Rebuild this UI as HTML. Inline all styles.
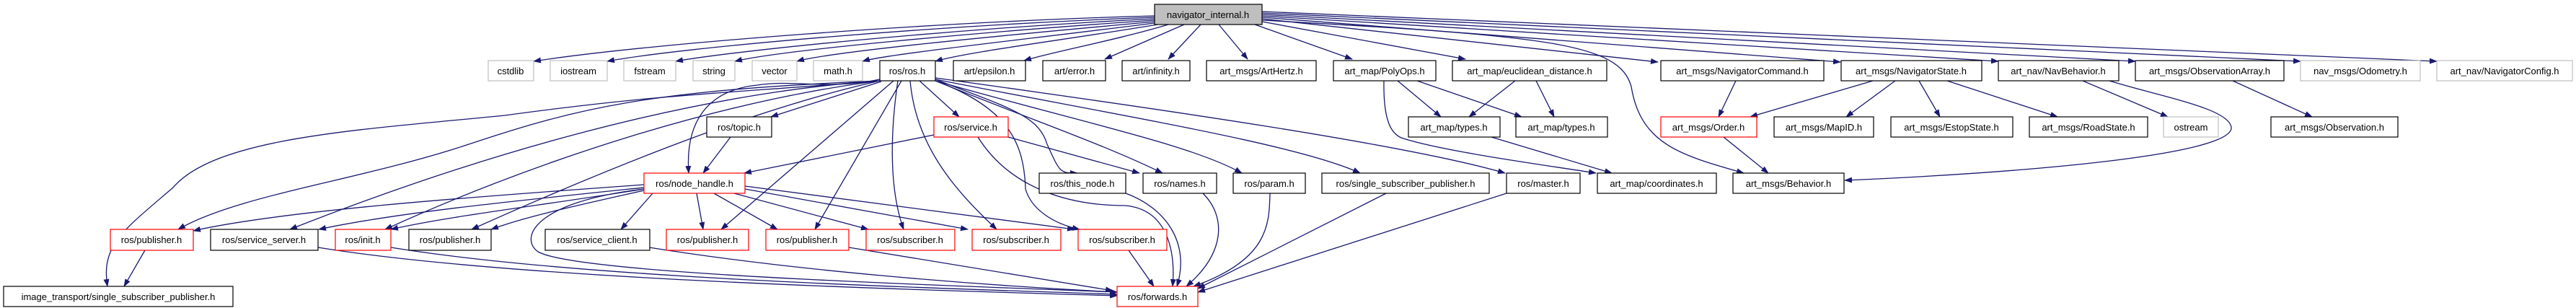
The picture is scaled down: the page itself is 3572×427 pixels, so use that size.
<!DOCTYPE html>
<html><head><meta charset="utf-8"><style>
html,body{margin:0;padding:0;background:#fff;}
svg{display:block;}
text{font-family:"Liberation Sans",sans-serif;font-size:13px;fill:#000;}
</style></head><body>
<svg width="3572" height="427" viewBox="0 0 3572 427" xmlns="http://www.w3.org/2000/svg">
<defs>
<marker id="a" markerWidth="11" markerHeight="8" refX="10" refY="4" orient="auto" markerUnits="userSpaceOnUse">
<path d="M0,0 L11,4 L0,8 z" fill="#191970"/></marker>
</defs>
<g fill="none" stroke="#191970" stroke-width="1.3" marker-end="url(#a)">
<!-- navigator_internal -->
<path d="M1601,22 C1300,30 900,60 740,85"/>
<path d="M1601,24 C1300,35 950,65 842,85"/>
<path d="M1601,26 C1320,40 1020,70 937,85"/>
<path d="M1601,28 C1350,45 1080,70 1019,85"/>
<path d="M1601,30 C1380,50 1150,72 1105,85"/>
<path d="M1601,32 C1420,55 1230,75 1196,85"/>
<path d="M1605,34 C1480,55 1340,72 1297,85"/>
<path d="M1620,34 C1550,55 1460,72 1420,84"/>
<path d="M1642,34 L1532,82"/>
<path d="M1665,34 L1620,82"/>
<path d="M1690,34 L1730,82"/>
<path d="M1740,34 L1875,82"/>
<path d="M1750,30 L2032,82"/>
<path d="M1750,26 L2299,86"/>
<path d="M1750,24 L2552,86"/>
<path d="M1750,22 L2771,85"/>
<path d="M1750,20 L2961,85"/>
<path d="M1750,18 L3190,85"/>
<path d="M1750,16 L3379,85"/>
<path d="M1750,28 C2150,50 2245,60 2262,120 C2275,200 2330,215 2418,240"/>
<path d="M2925,112 C3000,135 3089,150 3094,176 C3100,215 2800,240 2558,250"/>
<!-- ros.h -->
<path d="M1220,110 C1150,125 1100,110 1050,118 C980,125 950,170 955,240"/>
<path d="M1222,113 L1069,162"/>
<path d="M1275,112 L1330,162"/>
<path d="M1239,112 L1000,318"/>
<path d="M1250,112 L1130,318"/>
<path d="M1245,112 C1235,180 1232,260 1253,318"/>
<path d="M1262,112 C1270,200 1320,260 1382,318"/>
<path d="M1297,112 C1400,150 1420,200 1422,262 C1430,290 1460,310 1497,318"/>
<path d="M1297,110 C1400,150 1440,160 1452,200 C1470,240 1470,240 1494,240"/>
<path d="M1297,112 C1440,170 1530,200 1612,240"/>
<path d="M1297,112 C1500,170 1650,200 1722,240"/>
<path d="M1297,110 C1550,160 1800,200 1886,240"/>
<path d="M1297,108 C1600,150 1950,200 2087,240"/>
<path d="M1220,112 C900,125 800,150 650,200 C500,250 330,270 247,318"/>
<path d="M1220,112 C950,130 650,220 402,318"/>
<path d="M1220,112 C1000,140 750,220 534,318"/>
<path d="M1220,112 C1050,150 850,230 654,318"/>
<path d="M1220,112 C1000,130 920,130 700,160 C500,180 300,190 240,260 C170,320 140,340 149,397"/>
<!-- node_handle -->
<path d="M893,256 C700,270 400,290 268,320"/>
<path d="M893,260 C700,280 550,295 442,318"/>
<path d="M893,262 C750,285 620,300 542,318"/>
<path d="M893,264 C800,285 730,300 681,318"/>
<path d="M905,268 L861,318"/>
<path d="M966,268 L975,318"/>
<path d="M990,268 L1078,318"/>
<path d="M1018,268 L1204,318"/>
<path d="M1033,262 L1342,318"/>
<path d="M1033,258 L1490,318"/>
<path d="M893,262 C740,280 720,330 746,349 C800,380 1300,395 1549,405"/>
<path d="M1013,190 L975,240"/>
<path d="M1295,187 L1032,240"/>
<path d="M1398,190 L1580,240"/>
<path d="M1356,190 C1400,260 1480,285 1560,285 C1620,290 1630,350 1626,397"/>
<!-- row4 to forwards -->
<path d="M201,347 L172,397"/>
<path d="M441,343 C700,385 1200,400 1549,410"/>
<path d="M542,343 C800,385 1250,398 1549,408"/>
<path d="M900,343 C1100,375 1350,395 1549,405"/>
<path d="M1177,343 L1543,403"/>
<path d="M1565,347 L1600,397"/>
<path d="M1561,268 C1620,290 1650,340 1632,397"/>
<path d="M1668,268 C1700,300 1700,350 1645,397"/>
<path d="M1761,268 C1760,310 1760,360 1655,397"/>
<path d="M1922,268 L1661,400"/>
<path d="M2089,268 L1661,405"/>
<!-- art -->
<path d="M1938,112 L1998,162"/>
<path d="M1965,112 L2110,162"/>
<path d="M1919,112 C1918,170 1930,185 1943,191 C2000,210 2150,230 2213,240"/>
<path d="M2101,112 L2037,162"/>
<path d="M2130,112 L2155,162"/>
<path d="M2068,190 L2235,240"/>
<path d="M2407,112 L2383,162"/>
<path d="M2597,112 L2427,162"/>
<path d="M2628,112 L2560,162"/>
<path d="M2661,112 L2690,162"/>
<path d="M2700,112 L2853,162"/>
<path d="M2888,112 L3006,162"/>
<path d="M2390,190 L2452,240"/>
<path d="M3096,112 L3206,162"/>
</g>
<g stroke-width="1.2" fill="#fff">
<!-- row0 -->
<rect x="1601" y="6" width="149" height="28" fill="#bfbfbf" stroke="#000"/>
<!-- row1 gray -->
<rect x="677" y="84" width="63" height="28" stroke="#bfbfbf"/>
<rect x="763" y="84" width="79" height="28" stroke="#bfbfbf"/>
<rect x="865" y="84" width="72" height="28" stroke="#bfbfbf"/>
<rect x="961" y="84" width="58" height="28" stroke="#bfbfbf"/>
<rect x="1043" y="84" width="62" height="28" stroke="#bfbfbf"/>
<rect x="1128" y="84" width="68" height="28" stroke="#bfbfbf"/>
<rect x="3190" y="84" width="166" height="28" stroke="#bfbfbf"/>
<rect x="3379" y="84" width="188" height="28" stroke="#bfbfbf"/>
<rect x="3000" y="162" width="76" height="28" stroke="#bfbfbf"/>
<!-- black -->
<g stroke="#000">
<rect x="1220" y="84" width="77" height="28"/>
<rect x="1322" y="84" width="100" height="28"/>
<rect x="1446" y="84" width="87" height="28"/>
<rect x="1556" y="84" width="94" height="28"/>
<rect x="1673" y="84" width="152" height="28"/>
<rect x="1849" y="84" width="142" height="28"/>
<rect x="2014" y="84" width="214" height="28"/>
<rect x="2303" y="84" width="226" height="28"/>
<rect x="2553" y="84" width="195" height="28"/>
<rect x="2771" y="84" width="167" height="28"/>
<rect x="2961" y="84" width="206" height="28"/>
<rect x="980" y="162" width="90" height="28"/>
<rect x="1953" y="162" width="127" height="28"/>
<rect x="2102" y="162" width="127" height="28"/>
<rect x="2460" y="162" width="138" height="28"/>
<rect x="2622" y="162" width="169" height="28"/>
<rect x="2814" y="162" width="164" height="28"/>
<rect x="3149" y="162" width="176" height="28"/>
<rect x="1441" y="240" width="120" height="28"/>
<rect x="1585" y="240" width="102" height="28"/>
<rect x="1710" y="240" width="100" height="28"/>
<rect x="1833" y="240" width="232" height="28"/>
<rect x="2089" y="240" width="102" height="28"/>
<rect x="2215" y="240" width="165" height="28"/>
<rect x="2403" y="240" width="154" height="28"/>
<rect x="292" y="318" width="149" height="29"/>
<rect x="567" y="318" width="114" height="29"/>
<rect x="756" y="318" width="145" height="29"/>
<rect x="5" y="397" width="318" height="28"/>
</g>
<g stroke="#ff0000">
<rect x="1295" y="162" width="103" height="28"/>
<rect x="2303" y="162" width="133" height="28"/>
<rect x="893" y="240" width="140" height="28"/>
<rect x="153" y="318" width="115" height="29"/>
<rect x="465" y="318" width="77" height="29"/>
<rect x="924" y="318" width="114" height="29"/>
<rect x="1062" y="318" width="115" height="29"/>
<rect x="1201" y="318" width="123" height="29"/>
<rect x="1348" y="318" width="123" height="29"/>
<rect x="1495" y="318" width="123" height="29"/>
<rect x="1549" y="397" width="112" height="28"/>
</g>
</g>
<g text-anchor="middle">
<text x="1675" y="25">navigator_internal.h</text>
<text x="708" y="103">cstdlib</text>
<text x="802" y="103">iostream</text>
<text x="901" y="103">fstream</text>
<text x="990" y="103">string</text>
<text x="1074" y="103">vector</text>
<text x="1162" y="103">math.h</text>
<text x="1258" y="103">ros/ros.h</text>
<text x="1372" y="103">art/epsilon.h</text>
<text x="1490" y="103">art/error.h</text>
<text x="1603" y="103">art/infinity.h</text>
<text x="1749" y="103">art_msgs/ArtHertz.h</text>
<text x="1920" y="103">art_map/PolyOps.h</text>
<text x="2121" y="103">art_map/euclidean_distance.h</text>
<text x="2416" y="103">art_msgs/NavigatorCommand.h</text>
<text x="2650" y="103">art_msgs/NavigatorState.h</text>
<text x="2854" y="103">art_nav/NavBehavior.h</text>
<text x="3064" y="103">art_msgs/ObservationArray.h</text>
<text x="3273" y="103">nav_msgs/Odometry.h</text>
<text x="3473" y="103">art_nav/NavigatorConfig.h</text>
<text x="1025" y="181">ros/topic.h</text>
<text x="1346" y="181">ros/service.h</text>
<text x="2016" y="181">art_map/types.h</text>
<text x="2165" y="181">art_map/types.h</text>
<text x="2369" y="181">art_msgs/Order.h</text>
<text x="2529" y="181">art_msgs/MapID.h</text>
<text x="2706" y="181">art_msgs/EstopState.h</text>
<text x="2896" y="181">art_msgs/RoadState.h</text>
<text x="3038" y="181">ostream</text>
<text x="3237" y="181">art_msgs/Observation.h</text>
<text x="963" y="259">ros/node_handle.h</text>
<text x="1501" y="259">ros/this_node.h</text>
<text x="1636" y="259">ros/names.h</text>
<text x="1760" y="259">ros/param.h</text>
<text x="1949" y="259">ros/single_subscriber_publisher.h</text>
<text x="2140" y="259">ros/master.h</text>
<text x="2297" y="259">art_map/coordinates.h</text>
<text x="2480" y="259">art_msgs/Behavior.h</text>
<text x="210" y="337">ros/publisher.h</text>
<text x="366" y="337">ros/service_server.h</text>
<text x="503" y="337">ros/init.h</text>
<text x="624" y="337">ros/publisher.h</text>
<text x="828" y="337">ros/service_client.h</text>
<text x="981" y="337">ros/publisher.h</text>
<text x="1119" y="337">ros/publisher.h</text>
<text x="1262" y="337">ros/subscriber.h</text>
<text x="1409" y="337">ros/subscriber.h</text>
<text x="1556" y="337">ros/subscriber.h</text>
<text x="164" y="416">image_transport/single_subscriber_publisher.h</text>
<text x="1605" y="416">ros/forwards.h</text>
</g>
</svg>
</body></html>
